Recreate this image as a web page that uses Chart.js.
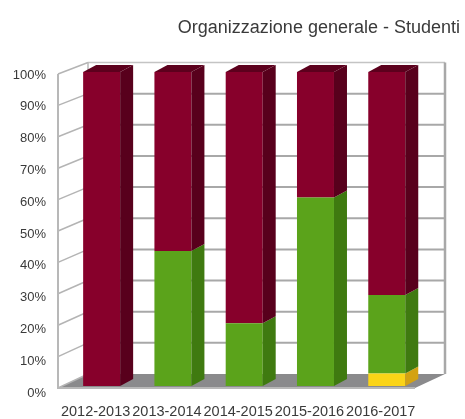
<!DOCTYPE html>
<html><head><meta charset="utf-8">
<style>html,body{margin:0;padding:0;background:#fff}#w{width:465px;height:419px}</style>
<script src="https://cdn.jsdelivr.net/npm/chart.js@4"></script></head>
<body><div id="w"><canvas id="c" width="465" height="419"></canvas></div>
<script>
const titleText = "Organizzazione generale - Studenti";
const categories = ["2012-2013","2013-2014","2014-2015","2015-2016","2016-2017"];
const yellowValues = [0,0,0,0,4];
const greenValues = [0,43,20,60,25];
const redValues = [100,57,80,40,71];
const FONT = "'Liberation Sans', Arial, sans-serif";
const TEXT = "#3a3a3a";
const faces = {
  "#87002b": {side:"#58001c", top:"#5c001d"},
  "#5ba31b": {side:"#3f7a10"},
  "#fbd417": {side:"#d3a212"}
};
const depthX = 13, depthY = -7;
const wallPlugin = {
  id:"wall",
  beforeDatasetsDraw(chart){
    const c = chart.ctx, y = chart.scales.y, ticks = chart.scales.yl.ticks;
    const frontL = 58, backL = 88, backR = 445, frontR = 415;
    const fy = v => y.getPixelForValue(v) + 2;
    const by = v => y.getPixelForValue(v) - 12 + 0.025*v;
    c.save();
    c.fillStyle = "#8a8a8c";
    c.beginPath();c.moveTo(frontL,fy(0));c.lineTo(backL,by(0));c.lineTo(backR,by(0));c.lineTo(frontR,fy(0));c.closePath();c.fill();
    ticks.forEach(t=>{
      const v = t.value;
      c.strokeStyle="#b4b4b4";c.lineWidth=1.5;
      c.beginPath();c.moveTo(frontL,fy(v));c.lineTo(backL,by(v));c.stroke();
      if(v>0){
        c.strokeStyle = v===100 ? "#c4c4c4" : "#a8a8a8";
        c.lineWidth = v===100 ? 1.5 : 2;
        c.beginPath();c.moveTo(backL,by(v));c.lineTo(backR,by(v));c.stroke();
      }
    });
    c.strokeStyle="#b8b8b8";c.lineWidth=2;
    c.beginPath();c.moveTo(frontL,fy(100));c.lineTo(frontL,fy(0));c.lineTo(frontR,fy(0));c.stroke();
    c.lineWidth=1.5;c.beginPath();c.moveTo(backL,by(100));c.lineTo(backL,by(0));c.stroke();
    c.strokeStyle="#a8a8a8";c.lineWidth=2.5;c.beginPath();c.moveTo(backR,by(100));c.lineTo(backR,by(0));c.stroke();
    c.restore();
  },
  afterDatasetsDraw(chart){
    const c = chart.ctx;
    c.save();
    chart.data.datasets.forEach((ds,i)=>{
      chart.getDatasetMeta(i).data.forEach((b,j)=>{
        if(!ds.data[j]) return;
        const p = b.getProps(["x","y","base","width"],true);
        const r = p.x+p.width/2, l = p.x-p.width/2;
        c.fillStyle = faces[ds.backgroundColor].side;
        c.beginPath();c.moveTo(r,p.base);c.lineTo(r+depthX,p.base+depthY);c.lineTo(r+depthX,p.y+depthY);c.lineTo(r,p.y);c.closePath();c.fill();
        if(ds.showTop){
          c.fillStyle = faces[ds.backgroundColor].top;
          c.beginPath();c.moveTo(l,p.y);c.lineTo(l+depthX,p.y+depthY);c.lineTo(r+depthX,p.y+depthY);c.lineTo(r,p.y);c.closePath();c.fill();
        }
      });
    });
    c.restore();
  }
};
new Chart(document.getElementById("c"),{
  type:"bar",
  plugins:[wallPlugin],
  data:{labels:categories,datasets:[
    {data:yellowValues,backgroundColor:"#fbd417",yAxisID:"y",clip:false},
    {data:greenValues,backgroundColor:"#5ba31b",yAxisID:"y",clip:false},
    {data:redValues,backgroundColor:"#87002b",yAxisID:"y",clip:false,showTop:true}
  ]},
  options:{
    responsive:false,animation:false,
    categoryPercentage:1,barPercentage:0.519,
    layout:{padding:{right:5}},
    plugins:{
      legend:{display:false},tooltip:{enabled:false},
      title:{display:true,text:titleText,align:"end",color:TEXT,font:{family:FONT,size:18,weight:"normal"},padding:{top:17,bottom:33.4}}
    },
    scales:{
      x:{stacked:true,grid:{display:false},border:{display:false},
        ticks:{color:TEXT,font:{family:FONT,size:14.5},padding:2.5,labelOffset:-6,maxRotation:0,minRotation:0,autoSkip:false},
        afterFit(a){a.height=26;a.paddingLeft=0;a.paddingRight=0;}},
      yl:{position:"left",min:0,max:100.94,grid:{display:false,drawTicks:false},border:{display:false},
        ticks:{stepSize:10,includeBounds:false,color:TEXT,font:{family:FONT,size:13},padding:20,callback:v=>v+"%"},
        afterFit(a){a.width=66;a.paddingTop=0;a.paddingBottom=0;}},
      y:{position:"right",stacked:true,min:-2.23,max:100,grid:{display:false,drawTicks:false},border:{display:false},
        ticks:{display:false},
        afterFit(a){a.width=37.6;a.paddingTop=0;a.paddingBottom=0;}}
    }
  }
});
</script></body></html>
